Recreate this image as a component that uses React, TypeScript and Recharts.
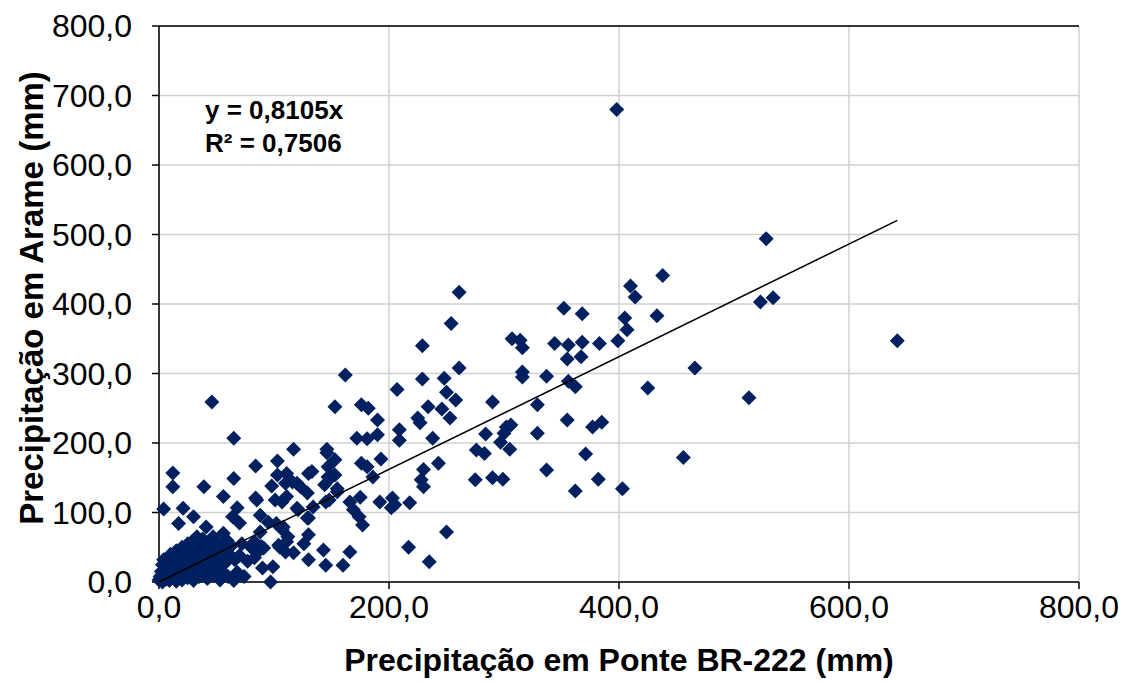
import React from "react";
import {
  CartesianGrid,
  ReferenceLine,
  Scatter,
  ScatterChart,
  XAxis,
  YAxis,
} from "recharts";

// pontos agrupados perto da origem (Ponte BR-222, Arame) em mm
const clusterPoints: [number, number][] = [
  [0, 3], [1, 8], [2, 15], [3, 0], [3, 25], [4, 32], [5, 10], [6, 4], [7, 18], [8, 28],
  [9, 2], [10, 12], [10, 40], [11, 22], [12, 6], [13, 33], [14, 15], [15, 1], [15, 45], [16, 26],
  [17, 9], [18, 38], [19, 18], [20, 3], [20, 50], [21, 30], [22, 12], [23, 42], [24, 22], [25, 6],
  [25, 55], [26, 35], [27, 15], [28, 48], [29, 27], [30, 2], [30, 60], [31, 40], [32, 18], [33, 52],
  [34, 32], [35, 8], [36, 45], [37, 24], [38, 62], [39, 14], [40, 38], [41, 55], [42, 5], [43, 28],
  [44, 48], [45, 18], [46, 36], [47, 65], [48, 10], [49, 42], [50, 25], [52, 55], [53, 3], [54, 35],
  [55, 15], [56, 48], [58, 28], [59, 60], [60, 8], [61, 40], [63, 52], [65, 2], [66, 32],
  [68, 14], [70, 38], [72, 55], [74, 8], [77, 30], [80, 50],
  [83, 35], [87, 45], [90, 20],
];

const lowPoints: [number, number][] = [
  [4, 105], [12, 157], [12, 137], [21, 106], [17, 84], [30, 94], [41, 79], [39, 137], [46, 259], [56, 123],
  [65, 207], [65, 149], [68, 107], [64, 94], [70, 85], [84, 167], [84, 121], [85, 118], [88, 96], [95, 86],
  [98, 138], [101, 118], [103, 174], [107, 115], [108, 79], [111, 156], [111, 123], [116, 144], [117, 191], [120, 106],
  [123, 137], [129, 128], [129, 92], [130, 68], [133, 159], [134, 108], [144, 140], [146, 186], [147, 166], [147, 151],
  [148, 118], [143, 46], [145, 24], [130, 32], [99, 22], [97, 0], [112, 65], [88, 72], [89, 51], [105, 50],
  [56, 70], [53, 51], [33, 65], [50, 41], [103, 154], [110, 142], [120, 142], [130, 156], [153, 154], [155, 130],
  [145, 115], [121, 104], [130, 92], [102, 84], [107, 76], [83, 58], [91, 49], [104, 53], [111, 58], [110, 43],
  [117, 42], [126, 55],
];

const midPoints: [number, number][] = [
  [146, 191], [153, 252], [153, 176], [150, 151], [155, 134], [160, 24], [162, 298], [166, 43], [166, 115], [169, 104],
  [172, 207], [174, 94], [175, 122], [176, 255], [176, 171], [177, 82], [181, 206], [181, 166], [182, 250], [186, 151],
  [190, 233], [190, 212], [192, 115], [193, 177], [202, 107], [203, 121], [205, 111], [207, 277], [209, 219], [209, 204],
  [217, 50], [218, 114], [225, 236], [227, 229], [229, 340], [229, 292], [230, 162], [228, 147], [230, 137], [234, 252],
  [235, 29], [238, 207], [243, 171], [246, 249], [248, 293], [250, 273], [250, 72], [253, 236], [254, 372], [258, 262],
  [261, 417], [261, 308],
];

const highPoints: [number, number][] = [
  [276, 190], [283, 185], [284, 213], [275, 147], [290, 259], [290, 150], [297, 201], [299, 148], [300, 214], [302, 223],
  [306, 226], [305, 191], [307, 350], [314, 348], [316, 337], [316, 302], [316, 295], [329, 255], [329, 214], [337, 296],
  [337, 161], [344, 343], [352, 394], [355, 321], [355, 233], [356, 341], [356, 289], [362, 281], [362, 131], [367, 324],
  [368, 386], [368, 345], [371, 184], [377, 223], [382, 148], [383, 343], [385, 230], [398, 680], [399, 347], [403, 134],
  [405, 380], [407, 363], [410, 426], [414, 410], [425, 279], [433, 383], [438, 441], [456, 179], [466, 308], [513, 265],
  [523, 403], [528, 494], [534, 409], [642, 347],
];

const axisTicks = [0, 200, 400, 600, 800];
const yTicks = [0, 100, 200, 300, 400, 500, 600, 700, 800];
const slope = 0.8105;
const r2 = 0.7506;

const points = [...clusterPoints, ...lowPoints, ...midPoints, ...highPoints].map(([x, y]) => ({ x, y }));
const maxX = Math.max(...points.map((p) => p.x));
const trendData = [
  { x: 0, y: 0 },
  { x: maxX, y: slope * maxX },
];

const fmt = (v: number) => v.toFixed(1).replace(".", ",");
const fmt4 = (v: number) => v.toFixed(4).replace(".", ",");
const font = "'Liberation Sans', Arial, sans-serif";

const Diamond = (props: any) => {
  const { cx, cy } = props;
  const r = 7.5;
  return (
    <path
      d={`M${cx},${cy - r}L${cx + r},${cy}L${cx},${cy + r}L${cx - r},${cy}Z`}
      fill="#002060"
    />
  );
};

const tickStyle = { fontSize: 32, fill: "#000", fontFamily: font };

export default function App() {
  return (
    <div style={{ position: "absolute", left: 0, top: 0, width: 1124, height: 683, background: "#fff", fontFamily: font }}>
      <ScatterChart width={1124} height={683} margin={{ top: 26, right: 45, bottom: 0, left: 0 }}>
        <CartesianGrid stroke="#d0d0d0" strokeWidth={1.5} />
        <XAxis
          type="number"
          dataKey="x"
          domain={[0, 800]}
          ticks={axisTicks}
          tickFormatter={fmt}
          height={101}
          tick={tickStyle}
          tickSize={7}
          tickMargin={6}
          axisLine={{ stroke: "#000", strokeWidth: 1.5 }}
          tickLine={{ stroke: "#000", strokeWidth: 1.5 }}
          interval={0}
        />
        <YAxis
          type="number"
          dataKey="y"
          domain={[0, 800]}
          ticks={yTicks}
          tickFormatter={fmt}
          width={159}
          tick={tickStyle}
          tickSize={7}
          tickMargin={20}
          axisLine={{ stroke: "#000", strokeWidth: 1.5 }}
          tickLine={{ stroke: "#000", strokeWidth: 1.5 }}
          interval={0}
        />
        <ReferenceLine y={800} stroke="#000" strokeWidth={1.5} />
        <Scatter data={points} shape={<Diamond />} isAnimationActive={false} />
        <Scatter
          data={trendData}
          line={{ stroke: "#000", strokeWidth: 1.5 }}
          shape={() => <g />}
          isAnimationActive={false}
        />
      </ScatterChart>
      <div
        style={{
          position: "absolute",
          left: 205,
          top: 94,
          fontSize: 26,
          fontWeight: "bold",
          lineHeight: "33px",
          color: "#000",
        }}
      >
        <div>y = {fmt4(slope)}x</div>
        <div>R² = {fmt4(r2)}</div>
      </div>
      <div
        style={{
          position: "absolute",
          left: 0,
          width: 1238,
          top: 642,
          textAlign: "center",
          fontSize: 32,
          fontWeight: "bold",
          color: "#000",
        }}
      >
        Precipitação em Ponte BR-222 (mm)
      </div>
      <div
        style={{
          position: "absolute",
          left: 32,
          top: 298,
          transform: "translate(-50%, -50%) rotate(-90deg)",
          whiteSpace: "nowrap",
          fontSize: 33,
          fontWeight: "bold",
          color: "#000",
        }}
      >
        Precipitação em Arame (mm)
      </div>
    </div>
  );
}
